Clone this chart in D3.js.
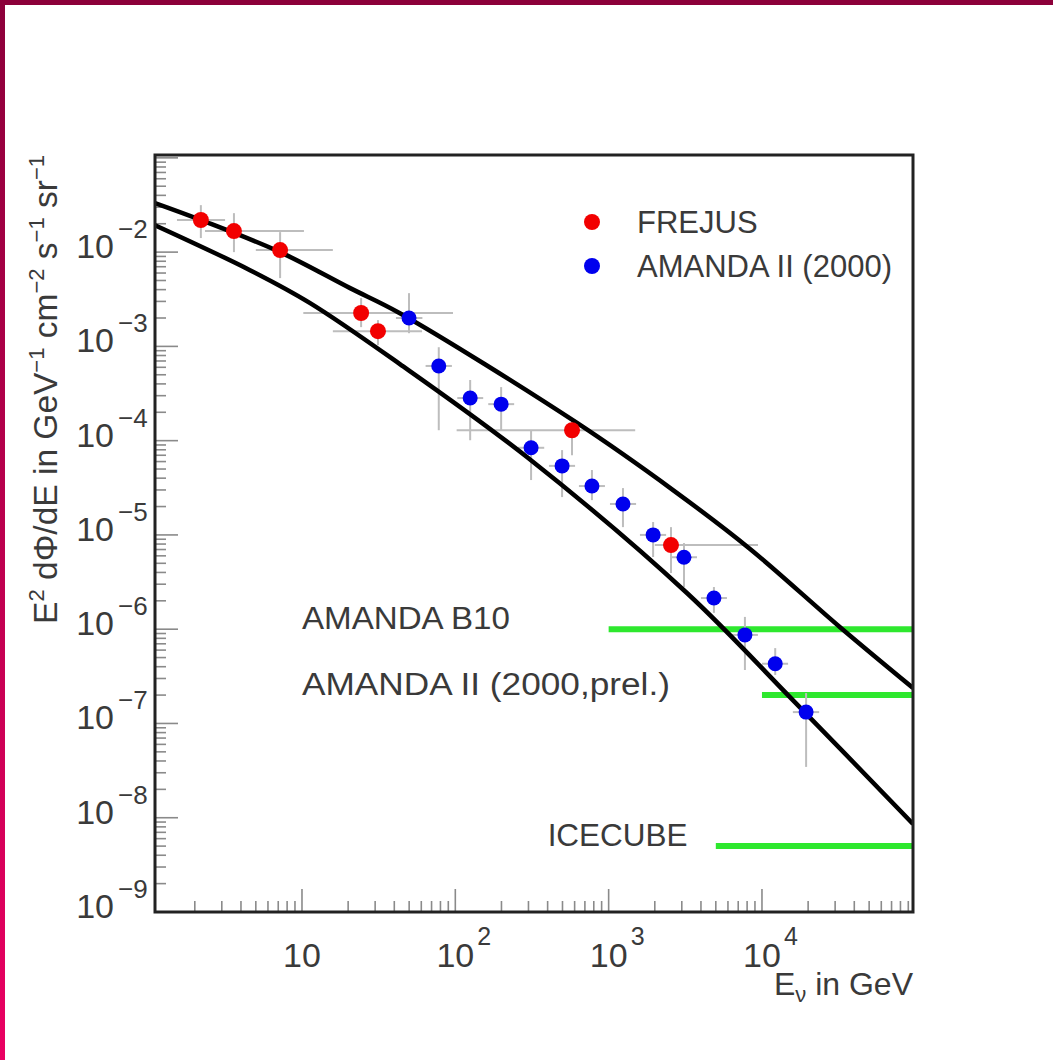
<!DOCTYPE html>
<html>
<head>
<meta charset="utf-8">
<script src="https://cdn.jsdelivr.net/npm/d3@7"></script>
<style>
	body { margin: 0; background: #fff; }
	text { font-family: "Liberation Sans", Arial, sans-serif; fill: #3a3a3a; }
</style>
</head>
<body>
<div id="chart"></div>
<script>
(function() {
	"use strict";

	// FREJUS points (E in GeV, E^2 dPhi/dE)
	var frejusE = [2.19, 3.6, 7.2, 24.3, 31.3, 577, 2550];
	var frejusFlux = [2.19e-2, 1.67e-2, 1.05e-2, 2.26e-3, 1.45e-3, 1.29e-4, 7.8e-6];
	var frejusELo = [1.53, 2.33, 5.0, 10.2, 15.9, 102, 2000];
	var frejusEHi = [3.15, 10.3, 15.9, 96.6, 60.7, 1490, 9420];
	var frejusFluxLo = [1.41e-2, 1.0e-2, 5.3e-3, 1.6e-3, 1.03e-3, 7.0e-5, 3.94e-6];
	var frejusFluxHi = [3.15e-2, 2.59e-2, 1.63e-2, 3.25e-3, 1.9e-3, 1.74e-4, 1.21e-5];

	// AMANDA II (2000) points
	var amandaE = [49.9, 78, 125, 199, 312, 497, 778, 1240, 1950, 3100, 4860, 7740, 12200, 19400];
	var amandaFlux = [2.0e-3, 6.2e-4, 2.83e-4, 2.44e-4, 8.4e-5, 5.4e-5, 3.3e-5, 2.13e-5, 1.0e-5, 5.8e-6, 2.14e-6, 8.7e-7, 4.3e-7, 1.32e-7];
	var amandaELo = [41, 64, 103, 164, 256, 408, 640, 1020, 1600, 2550, 4000, 6360, 10000, 15900];
	var amandaEHi = [61, 95, 152, 242, 380, 604, 946, 1510, 2370, 3770, 5910, 9410, 14800, 23600];
	var amandaFluxLo = [1.38e-3, 1.29e-4, 1.01e-4, 1.29e-4, 3.82e-5, 2.52e-5, 2.34e-5, 1.21e-5, 5.83e-6, 2.8e-6, 1.49e-6, 3.69e-7, 3.27e-7, 3.46e-8];
	var amandaFluxHi = [3.67e-3, 9.8e-4, 4.4e-4, 3.7e-4, 1.29e-4, 7.94e-5, 4.88e-5, 3.14e-5, 1.37e-5, 8.2e-6, 2.8e-6, 1.35e-6, 6.3e-7, 2.1e-7];

	// atmospheric flux band (upper / lower curve)
	var upperE = [1.1, 2.19, 7.2, 20.6, 43.5, 622, 2630, 8360, 32300, 96600];
	var upperFlux = [3.31e-2, 2.19e-2, 1.0e-2, 4.15e-3, 2.25e-3, 1.54e-4, 2.99e-5, 7.1e-6, 1.05e-6, 2.38e-7];
	var lowerE = [1.1, 4.58, 11.3, 43.5, 293, 3240, 15900, 96600];
	var lowerFlux = [1.93e-2, 6.44e-3, 2.88e-3, 6.49e-4, 6.7e-5, 2.42e-6, 1.77e-7, 8.6e-9];

	// limits
	var limitNames = ["AMANDA B10", "AMANDA II (2000,prel.)", "ICECUBE"];
	var limitEMin = [1000, 10000, 5000];
	var limitFlux = [1.0e-6, 2.0e-7, 5.0e-9];

	var legendNames = ["FREJUS", "AMANDA II (2000)"];
	var xDomain = [1.1, 96600];
	var yDomain = [1e-9, 0.1072];

	var W = 1053, H = 1060;
	var left = 155, right = 913, top = 155, bottom = 912;

	var svg = d3.select("#chart").append("svg")
		.attr("width", W)
		.attr("height", H);

	// page border
	var grad = svg.append("defs").append("linearGradient")
		.attr("id", "edge")
		.attr("x1", 0).attr("y1", 0).attr("x2", 0).attr("y2", 1);
	grad.append("stop").attr("offset", "0%").attr("stop-color", "#8c003a");
	grad.append("stop").attr("offset", "100%").attr("stop-color", "#ea0062");
	svg.append("rect").attr("x", 0).attr("y", 0).attr("width", 5).attr("height", H).attr("fill", "url(#edge)");
	svg.append("rect").attr("x", 0).attr("y", 0).attr("width", W).attr("height", 5).attr("fill", "#8c003a");

	svg.append("clipPath").attr("id", "plot")
		.append("rect")
		.attr("x", left).attr("y", top)
		.attr("width", right - left).attr("height", bottom - top);

	var x = d3.scaleLog().domain(xDomain).range([left, right]);
	var y = d3.scaleLog().domain(yDomain).range([bottom, top]);

	function isMajor(v) {
		return Math.abs(Math.log10(v) - Math.round(Math.log10(v))) < 1e-6;
	}

	// ticks
	var xt = x.ticks().filter(function (v) { return v >= xDomain[0] && v <= xDomain[1]; });
	var yt = y.ticks().filter(function (v) { return v >= yDomain[0] && v <= yDomain[1]; });

	var ticks = svg.append("g").attr("stroke", "#8a8a8a").attr("stroke-width", 1.6);
	ticks.selectAll(".xt").data(xt).enter().append("line")
		.attr("x1", function (d) { return x(d); })
		.attr("x2", function (d) { return x(d); })
		.attr("y1", bottom)
		.attr("y2", function (d) { return bottom - (isMajor(d) ? 23 : 11); });
	ticks.selectAll(".yt").data(yt).enter().append("line")
		.attr("y1", function (d) { return y(d); })
		.attr("y2", function (d) { return y(d); })
		.attr("x1", left)
		.attr("x2", function (d) { return left + (isMajor(d) ? 23 : 11); });

	// tick labels
	var xLab = svg.append("g").selectAll("g")
		.data(xt.filter(isMajor))
		.enter().append("g")
		.attr("transform", function (d) { return "translate(" + x(d) + "," + 967 + ")"; });
	xLab.append("text")
		.attr("text-anchor", "middle")
		.style("font-size", "34px")
		.text("10");
	xLab.filter(function (d) { return Math.round(Math.log10(d)) > 1; })
		.append("text")
		.attr("x", 22).attr("y", -22)
		.style("font-size", "25px")
		.text(function (d) { return Math.round(Math.log10(d)); });

	var yLab = svg.append("g").selectAll("g")
		.data(yt.filter(function (d) { return isMajor(d) && d < 0.05; }))
		.enter().append("g")
		.attr("transform", function (d) { return "translate(" + 114 + "," + (y(d) + 6) + ")"; });
	yLab.append("text")
		.attr("text-anchor", "end")
		.style("font-size", "34px")
		.text("10");
	yLab.append("text")
		.attr("x", 4).attr("y", -20)
		.style("font-size", "26px")
		.text(function (d) { return "\u2212" + Math.abs(Math.round(Math.log10(d))); });

	// axis titles
	var xt1 = svg.append("text")
		.attr("x", right).attr("y", 995)
		.attr("text-anchor", "end")
		.style("font-size", "32px");
	xt1.append("tspan").text("E");
	xt1.append("tspan").attr("dy", 7).style("font-size", "22px").text("\u03bd");
	xt1.append("tspan").attr("dy", -7).text(" in GeV");

	var yTitle = svg.append("text")
		.attr("transform", "translate(57," + top + ") rotate(-90)")
		.attr("text-anchor", "end")
		.style("font-size", "33.5px");
	var parts = [["E", ""], ["", "2"], [" d\u03a6/dE in GeV", ""], ["", "\u22121"], [" cm", ""], ["", "\u22122"], [" s", ""], ["", "\u22121"], [" sr", ""], ["", "\u22121"]];
	var up = false;
	parts.forEach(function (p) {
		if (p[0]) {
			yTitle.append("tspan").attr("dy", up ? 13 : 0).text(p[0]);
			up = false;
		} else {
			yTitle.append("tspan").attr("dy", up ? 0 : -13).style("font-size", "22px").text(p[1]);
			up = true;
		}
	});

	var plot = svg.append("g").attr("clip-path", "url(#plot)");

	// limit lines
	limitNames.forEach(function (name, i) {
		plot.append("line")
			.attr("x1", x(limitEMin[i])).attr("x2", x(xDomain[1]))
			.attr("y1", y(limitFlux[i])).attr("y2", y(limitFlux[i]))
			.attr("stroke", "#2ee82e")
			.attr("stroke-width", 6);
	});
	var limitLabelE = [10, 10, 400];
	var limitLabelWidth = [208, 368, 140];
	limitNames.forEach(function (name, i) {
		svg.append("text")
			.attr("x", x(limitLabelE[i]))
			.attr("y", y(limitFlux[i]))
			.attr("textLength", limitLabelWidth[i])
			.attr("lengthAdjust", "spacingAndGlyphs")
			.style("font-size", "31px")
			.text(name);
	});

	// error bars
	function errorBars(E, F, ELo, EHi, FLo, FHi) {
		var g = plot.append("g").attr("stroke", "#bdbdbd").attr("stroke-width", 2);
		E.forEach(function (e, i) {
			g.append("line")
				.attr("x1", x(ELo[i])).attr("x2", x(EHi[i]))
				.attr("y1", y(F[i])).attr("y2", y(F[i]));
			g.append("line")
				.attr("x1", x(e)).attr("x2", x(e))
				.attr("y1", y(FLo[i])).attr("y2", y(FHi[i]));
		});
	}
	errorBars(frejusE, frejusFlux, frejusELo, frejusEHi, frejusFluxLo, frejusFluxHi);
	errorBars(amandaE, amandaFlux, amandaELo, amandaEHi, amandaFluxLo, amandaFluxHi);

	// band curves
	var line = d3.line()
		.x(function (d) { return x(d[0]); })
		.y(function (d) { return y(d[1]); })
		.curve(d3.curveCatmullRom);
	[[upperE, upperFlux], [lowerE, lowerFlux]].forEach(function (c) {
		plot.append("path")
			.datum(d3.zip(c[0], c[1]))
			.attr("d", line)
			.attr("fill", "none")
			.attr("stroke", "#000")
			.attr("stroke-width", 4.5);
	});

	// markers
	function markers(E, F, color, r) {
		plot.append("g").selectAll("circle")
			.data(d3.zip(E, F))
			.enter().append("circle")
			.attr("cx", function (d) { return x(d[0]); })
			.attr("cy", function (d) { return y(d[1]); })
			.attr("r", r)
			.attr("fill", color);
	}
	markers(frejusE, frejusFlux, "#f20000", 8);
	markers(amandaE, amandaFlux, "#0000ee", 7.5);

	// legend
	var legend = svg.append("g").attr("transform", "translate(592,222)");
	legendNames.forEach(function (name, i) {
		legend.append("circle")
			.attr("cx", 0).attr("cy", i * 44)
			.attr("r", 8)
			.attr("fill", i === 0 ? "#f20000" : "#0000ee");
		legend.append("text")
			.attr("x", 45).attr("y", i * 44 + 11)
			.style("font-size", "31px")
			.text(name);
	});

	// frame
	svg.append("rect")
		.attr("x", left).attr("y", top)
		.attr("width", right - left).attr("height", bottom - top)
		.attr("fill", "none")
		.attr("stroke", "#222")
		.attr("stroke-width", 3);
}());
</script>
</body>
</html>
